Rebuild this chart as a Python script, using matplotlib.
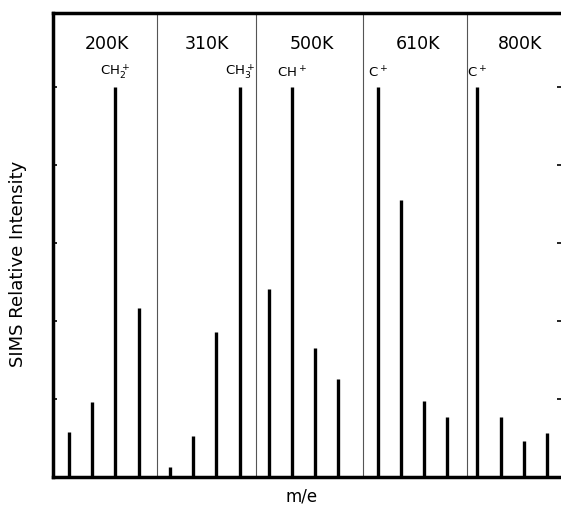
import numpy as np
import matplotlib.pyplot as plt

# data
temps = ['200K', '310K', '500K', '610K', '800K']
masses = [12, 13, 14, 15]  # C+, CH+, CH2+, CH3+
intens_200 = [0.58, 0.96, 5.0, 2.17]
intens_310 = [0.13, 0.53, 1.86, 5.0]
intens_500 = [2.41, 5.0, 1.65, 1.26]
intens_610 = [5.0, 3.56, 0.97, 0.77]
intens_800 = [5.0, 0.77, 0.46, 0.56]
peak_labels = ['CH$_2^+$', 'CH$_3^+$', 'CH$^+$', 'C$^+$', 'C$^+$']

series = [intens_200, intens_310, intens_500, intens_610, intens_800]
# where each panel starts along the m/e axis, separators, label centres
panel_start = [0, 4.35, 8.6, 13.3, 17.6]
dividers = [3.8, 8.05, 12.65, 17.15]
temp_x = [1.64, 5.95, 10.47, 15.04, 19.44]

fig = plt.figure(figsize=(5.61, 5.07), dpi=100, facecolor='w')
ax = fig.add_axes([0.0945, 0.059, 0.9055, 0.915])

for i, vals in enumerate(series):
    xs = panel_start[i] + np.array(masses) - masses[0]
    ax.vlines(xs, 0, vals, color='black', linewidth=2.4)
    k = int(np.argmax(vals))
    ax.text(xs[k], max(vals) + 0.08, peak_labels[i], ha='center', va='bottom',
            fontsize=9.5)
    ax.text(temp_x[i], 5.55, temps[i], ha='center', va='center',
            fontsize=12.5)
for d in dividers:
    ax.axvline(d, color='#555555', linewidth=0.8)

ax.set_xlim(-0.69, 21.2)
ax.set_ylim(0, 5.95)
ax.set_yticks([1, 2, 3, 4, 5])
ax.set_xticks([])
ax.tick_params(axis='y', direction='in', length=3, width=1.2,
               right=True, labelleft=False)
for s in ['left', 'bottom', 'top']:
    ax.spines[s].set_linewidth(2.5)
ax.spines['right'].set_visible(False)

fig.text(0.032, 0.48, 'SIMS Relative Intensity', rotation=90,
         ha='center', va='center', fontsize=13)
fig.text(0.538, 0.02, 'm/e', ha='center', va='center', fontsize=12)

plt.savefig('out.png', dpi=100, facecolor='w')
